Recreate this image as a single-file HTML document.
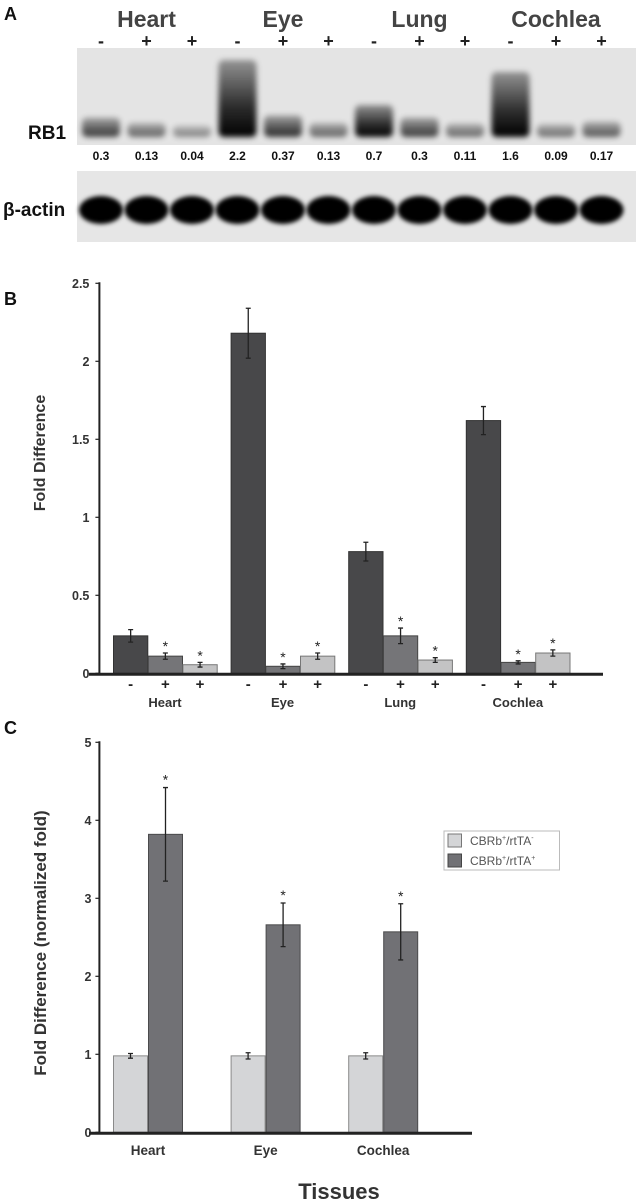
<!DOCTYPE html>
<html><head><meta charset="utf-8">
<style>
html,body{margin:0;padding:0;background:#fff;}
svg{display:block;font-family:"Liberation Sans",Arial,sans-serif;}
</style></head>
<body>
<svg id="fig" width="636" height="1200" viewBox="0 0 636 1200" xmlns="http://www.w3.org/2000/svg">
<defs>
<filter id="blur2" x="-50%" y="-50%" width="200%" height="200%"><feGaussianBlur stdDeviation="2"/></filter>
<filter id="blur3" x="-50%" y="-50%" width="200%" height="200%"><feGaussianBlur stdDeviation="3"/></filter>
<linearGradient id="smear" x1="0" y1="0" x2="0" y2="1">
<stop offset="0" stop-color="#000" stop-opacity="0.35"/>
<stop offset="0.6" stop-color="#000" stop-opacity="0.8"/>
<stop offset="1" stop-color="#000" stop-opacity="1"/>
</linearGradient>
</defs>
<!-- Panel A -->
<g>
<text x="4" y="20" font-size="18" font-weight="bold" fill="#111">A</text>
<rect x="77" y="48" width="559" height="97" fill="#e4e4e4"/>
<rect x="77" y="171" width="559" height="71" fill="#e6e6e6"/>
<g id="blotMarks"></g>
<text x="28" y="139" font-size="19" font-weight="bold" fill="#111">RB1</text>
<text x="3" y="216" font-size="19" font-weight="bold" fill="#111">β-actin</text>
<g id="blotText"></g>
</g>
<!-- Panel B -->
<g>
<text x="4" y="305" font-size="18" font-weight="bold" fill="#111">B</text>
<g id="chartB"></g>
</g>
<!-- Panel C -->
<g>
<text x="4" y="734" font-size="18" font-weight="bold" fill="#111">C</text>
<g id="chartC"></g>
</g>
</svg>
<script>
// ---------- Panel A data ----------
const blotTissues = ["Heart","Eye","Lung","Cochlea"];
const blotSigns = ["-","+","+","-","+","+","-","+","+","-","+","+"];
const blotQuant = ["0.3","0.13","0.04","2.2","0.37","0.13","0.7","0.3","0.11","1.6","0.09","0.17"];
const blotQuantNum = [0.3,0.13,0.04,2.2,0.37,0.13,0.7,0.3,0.11,1.6,0.09,0.17];

// ---------- Panel B data ----------
const bCategories = ["Heart","Eye","Lung","Cochlea"];
const bSignLabels = ["-","+","+"];
const bNeg = [0.24,2.18,0.78,1.62];
const bNegErr = [0.04,0.16,0.06,0.09];
const bPos1 = [0.11,0.045,0.24,0.07];
const bPos1Err = [0.02,0.015,0.05,0.01];
const bPos2 = [0.055,0.11,0.085,0.13];
const bPos2Err = [0.015,0.02,0.015,0.02];
const bTicks = [0,0.5,1,1.5,2,2.5];
const bTickLabels = ["0","0.5","1","1.5","2","2.5"];

// ---------- Panel C data ----------
const cCategories = ["Heart","Eye","Cochlea"];
const cCtrl = [0.98,0.98,0.98];
const cCtrlErr = [0.03,0.04,0.04];
const cTreat = [3.82,2.66,2.57];
const cTreatErr = [0.6,0.28,0.36];
const cTicks = [0,1,2,3,4,5];
const cTickLabels = ["0","1","2","3","4","5"];

const NS = "http://www.w3.org/2000/svg";
function mk(tag, attrs, parent, txt){
  const e = document.createElementNS(NS, tag);
  for (const k in attrs) e.setAttribute(k, attrs[k]);
  if (txt !== undefined) e.textContent = txt;
  parent.appendChild(e);
  return e;
}

// ---------- Panel A drawing ----------
(function(){
  const marks = document.getElementById('blotMarks');
  const txt = document.getElementById('blotText');
  const laneX = i => 101 + i * 45.5;
  const tissueX = i => laneX(i*3) + 45.5;
  blotTissues.forEach((t,i)=>{
    const e = mk('text',{x:tissueX(i),y:27,'text-anchor':'middle','font-size':23,'font-weight':'bold',fill:'#444'},txt,t);
    
    
  });
  blotSigns.forEach((s,i)=>{
    const e = mk('text',{x:laneX(i),y:47,'text-anchor':'middle','font-size':18,'font-weight':'bold',fill:'#222'},txt,s);
    
    
  });
  blotQuant.forEach((q,i)=>{
    const e = mk('text',{x:laneX(i),y:160,'text-anchor':'middle','font-size':12,'font-weight':'bold',fill:'#111'},txt,q);
    
    
  });
  blotQuantNum.forEach((v,i)=>{
    const x = laneX(i);
    const k = Math.min(1, Math.sqrt(v/0.7));
    const h = 10 + 22*Math.min(1,v/0.7) + (v>1 ? (v-1)*55 : 0);
    const top = Math.max(60, 137-h);
    const r = mk('rect',{x:x-19,y:top,width:38,height:137-top,rx:5,fill:'url(#smear)',opacity:(0.25+0.75*k).toFixed(2),filter:'url(#blur3)'},marks);
    
    
    const a = mk('ellipse',{cx:x,cy:210,rx:22,ry:14,fill:'#050505',filter:'url(#blur2)'},marks);
    
    
  });
})();

// ---------- generic bar drawing ----------
function errBar(g, x, yTop, yBot, name){
  const l = mk('path',{d:`M${x} ${yTop}V${yBot}M${x-2.5} ${yTop}H${x+2.5}M${x-2.5} ${yBot}H${x+2.5}`,stroke:'#222','stroke-width':1.3,fill:'none'},g);
  
  
}
function star(g, x, y){
  const s = mk('text',{x:x,y:y,'text-anchor':'middle','font-size':14,fill:'#222'},g,'*');
  
  
}

// ---------- Panel B ----------
(function(){
  const g = document.getElementById('chartB');
  const y0 = 673.3, perUnit = 156, axX = 99.4;
  const yS = v => y0 - v*perUnit;
  const groupX = i => 113.5 + i*117.6;
  const bw = 34.3;
  bTicks.forEach((t,i)=>{
    const tk = mk('line',{x1:axX-4,x2:axX,y1:yS(t),y2:yS(t),stroke:'#222','stroke-width':1.2},g);
    
    
    const lb = mk('text',{x:axX-10,y:yS(t)+4.5,'text-anchor':'end','font-size':12.5,'font-weight':'bold',fill:'#333'},g,bTickLabels[i]);
    
    
  });
  const series = [[bNeg,bNegErr,'#48484a','#333',false],[bPos1,bPos1Err,'#757578','#444',true],[bPos2,bPos2Err,'#c3c3c4','#777',true]];
  bCategories.forEach((c,i)=>{
    series.forEach((s,j)=>{
      const x = groupX(i) + j*(bw+0.4);
      const v = s[0][i], e = s[1][i];
      const r = mk('rect',{x:x,y:yS(v),width:bw,height:y0-yS(v),fill:s[2],stroke:s[3],'stroke-width':1},g);
      
      
      errBar(g, x+bw/2, yS(v+e), yS(v-e), 'error-bar');
      if (s[4]) star(g, x+bw/2, yS(v+e)-2);
      const sg = mk('text',{x:x+bw/2,y:689,'text-anchor':'middle','font-size':15,'font-weight':'bold',fill:'#222'},g,bSignLabels[j]);
      
      
    });
    const cl = mk('text',{x:groupX(i)+51.5,y:707,'text-anchor':'middle','font-size':13,'font-weight':'bold',fill:'#333'},g,c);
    
    
  });
  const ya = mk('line',{x1:axX,x2:axX,y1:yS(2.5)-1,y2:y0,stroke:'#222','stroke-width':2},g);
  
  
  const xa = mk('line',{x1:89,x2:603,y1:y0+1,y2:y0+1,stroke:'#222','stroke-width':3},g);
  
  
  const yt = mk('text',{x:0,y:0,transform:'translate(45,453) rotate(-90)','text-anchor':'middle','font-size':16,'font-weight':'bold',fill:'#333'},g,'Fold  Difference');
  
  
})();

// ---------- Panel C ----------
(function(){
  const g = document.getElementById('chartC');
  const y0 = 1132.3, perUnit = 78, axX = 99.4;
  const yS = v => y0 - v*perUnit;
  const groupX = i => 113.5 + i*117.6;
  const bw = 34;
  cTicks.forEach((t,i)=>{
    const tk = mk('line',{x1:axX-4,x2:axX,y1:yS(t),y2:yS(t),stroke:'#222','stroke-width':1.2},g);
    
    
    const lb = mk('text',{x:axX-8,y:yS(t)+4.5,'text-anchor':'end','font-size':12.5,'font-weight':'bold',fill:'#333'},g,cTickLabels[i]);
    
    
  });
  cCategories.forEach((c,i)=>{
    const x1 = groupX(i);
    const r1 = mk('rect',{x:x1,y:yS(cCtrl[i]),width:bw,height:y0-yS(cCtrl[i]),fill:'#d4d5d7',stroke:'#8a8a8a','stroke-width':1},g);
    
    
    errBar(g, x1+bw/2, yS(cCtrl[i]+cCtrlErr[i]), yS(cCtrl[i]-cCtrlErr[i]), 'error-bar');
    const x2 = x1 + bw + 1;
    const r2 = mk('rect',{x:x2,y:yS(cTreat[i]),width:bw,height:y0-yS(cTreat[i]),fill:'#717175',stroke:'#4a4a4c','stroke-width':1},g);
    
    
    errBar(g, x2+bw/2, yS(cTreat[i]+cTreatErr[i]), yS(cTreat[i]-cTreatErr[i]), 'error-bar');
    star(g, x2+bw/2, yS(cTreat[i]+cTreatErr[i])-3);
    const cl = mk('text',{x:x1+bw+0.5,y:1155,'text-anchor':'middle','font-size':13.5,'font-weight':'bold',fill:'#333'},g,c);
    
    
  });
  const ya = mk('line',{x1:axX,x2:axX,y1:yS(5)-1,y2:y0,stroke:'#222','stroke-width':2},g);
  
  
  const xa = mk('line',{x1:89,x2:472,y1:y0+1,y2:y0+1,stroke:'#222','stroke-width':3},g);
  
  
  const yt = mk('text',{x:0,y:0,transform:'translate(46,943) rotate(-90)','text-anchor':'middle','font-size':17,'font-weight':'bold',fill:'#333'},g,'Fold Difference (normalized fold)');
  
  
  const xt = mk('text',{x:339,y:1199,'text-anchor':'middle','font-size':22,'font-weight':'bold',fill:'#333'},g,'Tissues');
  
  
  // legend
  const lg = mk('g',{},g);
  
  
  mk('rect',{x:444,y:831,width:115.5,height:39,fill:'#fff',stroke:'#bbb','stroke-width':1},lg);
  const s1 = mk('rect',{x:448,y:834,width:13.5,height:13,fill:'#d4d5d7',stroke:'#777','stroke-width':1},lg);
  
  
  const s2 = mk('rect',{x:448,y:854,width:13.5,height:13,fill:'#717175',stroke:'#444','stroke-width':1},lg);
  
  
  const t1 = mk('text',{x:470,y:845,'font-size':12,fill:'#555'},lg);
  
  
  t1.innerHTML = 'CBRb<tspan font-size="7" dy="-5">+</tspan><tspan dy="5">/rtTA</tspan><tspan font-size="7" dy="-5">-</tspan>';
  const t2 = mk('text',{x:470,y:865,'font-size':12,fill:'#555'},lg);
  
  
  t2.innerHTML = 'CBRb<tspan font-size="7" dy="-5">+</tspan><tspan dy="5">/rtTA</tspan><tspan font-size="7" dy="-5">+</tspan>';
})();
</script>
</body></html>
